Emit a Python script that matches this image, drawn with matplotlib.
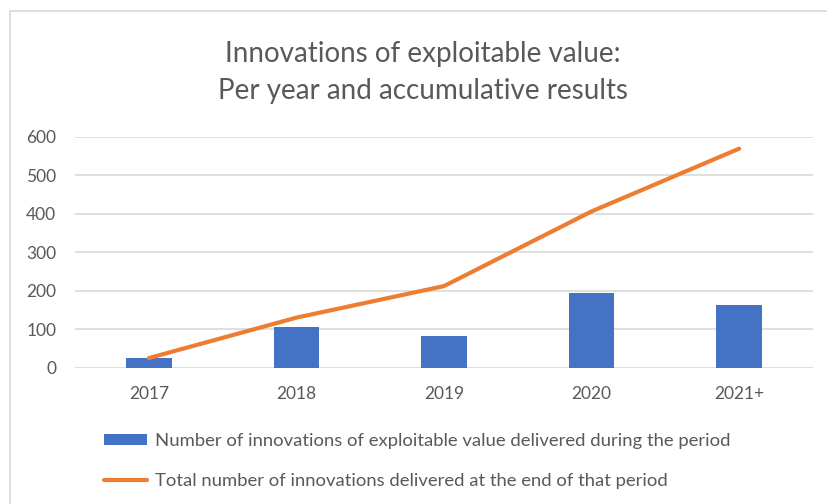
import matplotlib.pyplot as plt
from matplotlib.patches import Rectangle

# Data
years = ["2017", "2018", "2019", "2020", "2021+"]
per_year = [25, 105, 82, 194, 163]
cumulative = [25, 130, 212, 406, 569]

bar_label = "Number of innovations of exploitable value delivered during the period"
line_label = "Total number of innovations delivered at the end of that period"

BLUE = "#4472C4"
ORANGE = "#ED7D31"
GREY_TEXT = "#595959"
GRID = "#D9D9D9"

plt.rcParams['font.family'] = ['Lato', 'DejaVu Sans']

fig = plt.figure(figsize=(8.27, 5.04), dpi=100)
W, H = 827, 504

# chart frame
fig.patches.append(Rectangle((10 / W, -0.1), 1.2, 1 - 11 / H + 0.1, transform=fig.transFigure,
                             fill=False, edgecolor=GRID, linewidth=1.2))

ax = fig.add_axes([75 / W, 1 - 367.7 / H, (813 - 75) / W, (367.7 - 136.7) / H])
x = list(range(len(years)))
bars = ax.bar(x, per_year, width=0.31, color=BLUE, zorder=2)
line, = ax.plot(x, cumulative, color=ORANGE, linewidth=3, solid_capstyle='round', zorder=3)

ax.set_xlim(-0.5, len(years) - 0.5)
ax.set_ylim(0, 600)
ax.set_yticks(range(0, 601, 100))
ax.set_xticks(x)
ax.set_xticklabels(years)
ax.yaxis.grid(True, color=GRID, linewidth=1.2, zorder=0)
ax.set_axisbelow(True)
for s in ax.spines.values():
    s.set_visible(False)
ax.tick_params(length=0, colors=GREY_TEXT, labelsize=12.5)
ax.tick_params(axis='y', pad=13.5)
ax.tick_params(axis='x', pad=13)

fig.text(423 / W, 1 - 62 / H, "Innovations of exploitable value:", ha='center', va='baseline',
         fontsize=20, color=GREY_TEXT)
fig.text(423 / W, 1 - 99 / H, "Per year and accumulative results", ha='center', va='baseline',
         fontsize=20, color=GREY_TEXT)

fig.legend([bars, line], [bar_label, line_label], loc='upper left',
           bbox_to_anchor=(104 / W, 1 - 433 / H), frameon=False, borderpad=0,
           fontsize=13.3, labelcolor=GREY_TEXT, handlelength=2.35, handleheight=0.6,
           handletextpad=0.4, labelspacing=1.3, borderaxespad=0)

fig.savefig("out.png", dpi=100)
